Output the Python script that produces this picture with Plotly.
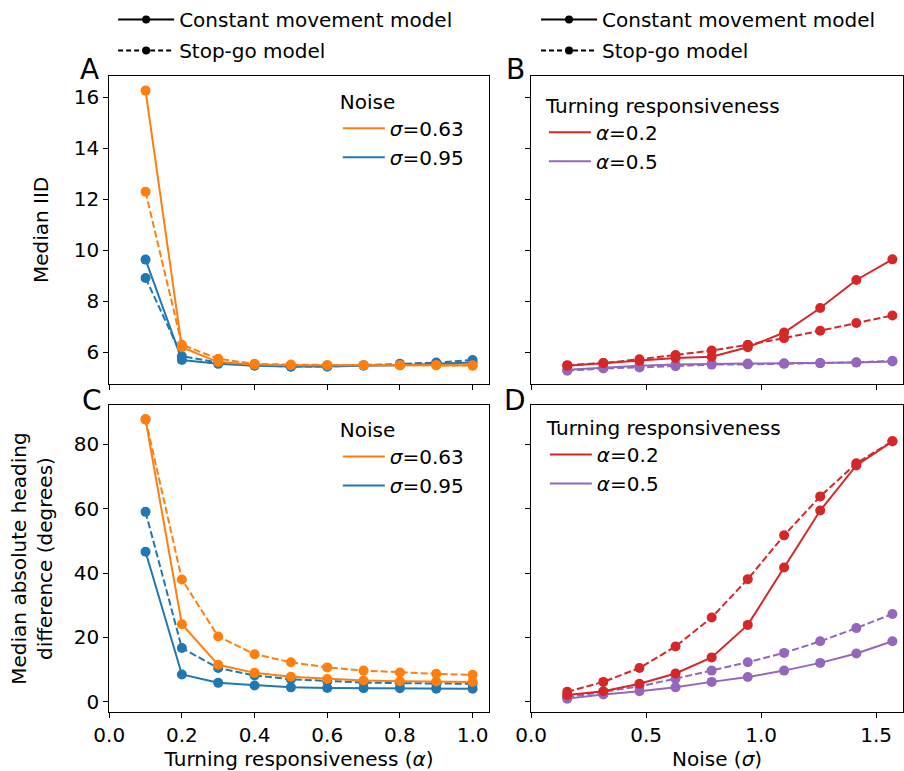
import plotly.graph_objects as go

# ---------------- data ----------------
alpha_vals = [0.1, 0.2, 0.3, 0.4, 0.5, 0.6, 0.7, 0.8, 0.9, 1.0]
sigma_vals = [0.157, 0.314, 0.471, 0.628, 0.785, 0.942, 1.100, 1.257, 1.414, 1.571]

# Panel A: median IID vs alpha
iid_const_s063 = [16.27, 6.20, 5.62, 5.52, 5.50, 5.50, 5.50, 5.50, 5.50, 5.50]
iid_stop_s063 = [12.30, 6.30, 5.75, 5.55, 5.52, 5.50, 5.50, 5.50, 5.50, 5.48]
iid_const_s095 = [9.64, 5.70, 5.55, 5.48, 5.45, 5.45, 5.48, 5.50, 5.55, 5.60]
iid_stop_s095 = [8.92, 5.85, 5.60, 5.50, 5.44, 5.45, 5.50, 5.55, 5.60, 5.70]

# Panel B: median IID vs sigma
iid_const_a02 = [5.48, 5.58, 5.67, 5.78, 5.83, 6.20, 6.78, 7.74, 8.84, 9.65]
iid_stop_a02 = [5.50, 5.58, 5.73, 5.90, 6.07, 6.30, 6.56, 6.85, 7.15, 7.45]
iid_const_a05 = [5.32, 5.41, 5.48, 5.52, 5.55, 5.56, 5.57, 5.58, 5.60, 5.64]
iid_stop_a05 = [5.28, 5.37, 5.41, 5.46, 5.52, 5.53, 5.55, 5.58, 5.61, 5.67]

# Panel C: median abs heading difference vs alpha
head_const_s063 = [87.6, 24.1, 11.5, 9.0, 7.8, 7.1, 6.6, 6.4, 6.3, 6.2]
head_stop_s063 = [87.8, 38.0, 20.3, 14.8, 12.3, 10.7, 9.7, 9.1, 8.7, 8.4]
head_const_s095 = [46.6, 8.5, 5.9, 5.1, 4.5, 4.3, 4.2, 4.2, 4.1, 4.1]
head_stop_s095 = [59.0, 16.7, 10.5, 8.2, 7.0, 6.4, 6.0, 5.8, 5.6, 5.6]

# Panel D: median abs heading difference vs sigma
head_const_a02 = [2.1, 3.3, 5.6, 8.8, 13.8, 23.9, 41.7, 59.4, 73.4, 80.9]
head_stop_a02 = [3.1, 6.2, 10.5, 17.2, 26.2, 38.1, 51.7, 63.8, 74.1, 80.9]
head_const_a05 = [1.0, 2.3, 3.3, 4.5, 6.2, 7.7, 9.7, 12.1, 15.0, 18.8]
head_stop_a05 = [1.4, 3.1, 4.8, 7.2, 9.7, 12.3, 15.2, 18.8, 22.9, 27.3]

iid_ticks = [6, 8, 10, 12, 14, 16]
head_ticks = [0, 20, 40, 60, 80]
alpha_ticks = [0.0, 0.2, 0.4, 0.6, 0.8, 1.0]
sigma_ticks = [0.0, 0.5, 1.0, 1.5]

# ---------------- style ----------------
ORANGE = "#ff7f0e"
BLUE = "#1f77b4"
RED = "#d62728"
PURPLE = "#9467bd"
DASH = "7px,3px"
FONT = "DejaVu Sans"
W, H = 904, 771

fig = go.Figure()


def add_series(x, y, color, dashed, xa, ya):
    fig.add_trace(go.Scatter(
        x=x, y=y, mode="lines+markers",
        line=dict(color=color, width=2, dash=DASH if dashed else "solid"),
        marker=dict(color=color, size=10),
        showlegend=False, xaxis=xa, yaxis=ya, hoverinfo="skip"))


# panel A
add_series(alpha_vals, iid_stop_s095, BLUE, True, "x", "y")
add_series(alpha_vals, iid_const_s095, BLUE, False, "x", "y")
add_series(alpha_vals, iid_stop_s063, ORANGE, True, "x", "y")
add_series(alpha_vals, iid_const_s063, ORANGE, False, "x", "y")
# panel B
add_series(sigma_vals, iid_stop_a05, PURPLE, True, "x2", "y2")
add_series(sigma_vals, iid_const_a05, PURPLE, False, "x2", "y2")
add_series(sigma_vals, iid_stop_a02, RED, True, "x2", "y2")
add_series(sigma_vals, iid_const_a02, RED, False, "x2", "y2")
# panel C
add_series(alpha_vals, head_stop_s095, BLUE, True, "x3", "y3")
add_series(alpha_vals, head_const_s095, BLUE, False, "x3", "y3")
add_series(alpha_vals, head_stop_s063, ORANGE, True, "x3", "y3")
add_series(alpha_vals, head_const_s063, ORANGE, False, "x3", "y3")
# panel D
add_series(sigma_vals, head_stop_a05, PURPLE, True, "x4", "y4")
add_series(sigma_vals, head_const_a05, PURPLE, False, "x4", "y4")
add_series(sigma_vals, head_stop_a02, RED, True, "x4", "y4")
add_series(sigma_vals, head_const_a02, RED, False, "x4", "y4")


def legend_line(name, color, legend, xa, ya):
    fig.add_trace(go.Scatter(
        x=[None], y=[None], mode="lines", name=name,
        line=dict(color=color, width=2), legend=legend,
        xaxis=xa, yaxis=ya))


legend_line("<i>σ</i>=0.63", ORANGE, "legend", "x", "y")
legend_line("<i>σ</i>=0.95", BLUE, "legend", "x", "y")
legend_line("<i>α</i>=0.2", RED, "legend2", "x2", "y2")
legend_line("<i>α</i>=0.5", PURPLE, "legend2", "x2", "y2")
legend_line("<i>σ</i>=0.63", ORANGE, "legend3", "x3", "y3")
legend_line("<i>σ</i>=0.95", BLUE, "legend3", "x3", "y3")
legend_line("<i>α</i>=0.2", RED, "legend4", "x4", "y4")
legend_line("<i>α</i>=0.5", PURPLE, "legend4", "x4", "y4")

for lg in ["legend5", "legend6"]:
    for name, dash, grp in [("Constant movement model", "solid", lg + "c"),
                            ("Stop-go model", "5px,3px", lg + "s")]:
        fig.add_trace(go.Scatter(
            x=[None], y=[None], mode="lines+markers", name=name,
            line=dict(color="black", width=2, dash=dash),
            marker=dict(color="black", size=8),
            legend=lg, legendgroup=grp, xaxis="x", yaxis="y"))

# ---------------- layout ----------------
def px_x(p):
    return p / W


def px_y(p):
    return 1 - p / H


row1 = [px_y(385), px_y(76)]
row2 = [px_y(714), px_y(406)]
colL = [px_x(95), px_x(482)]
colR = [px_x(525), 1.0]

axis_common = dict(showline=True, linecolor="black", linewidth=1, mirror=True,
                   ticks="outside", ticklen=5, tickwidth=1, tickcolor="black",
                   showgrid=False, zeroline=False,
                   tickfont=dict(family=FONT, size=20, color="black"))

fig.update_layout(
    width=W, height=H,
    margin=dict(l=0, r=0, t=0, b=0),
    paper_bgcolor="white", plot_bgcolor="white",
    font=dict(family=FONT, size=20, color="black"),
    xaxis=dict(domain=colL, anchor="y", range=[0, 1.045], tickvals=alpha_ticks,
               showticklabels=False, **axis_common),
    yaxis=dict(domain=row1, anchor="x", range=[4.76, 16.85], tickvals=iid_ticks,
               title=dict(text="Median IID", font=dict(size=20), standoff=19),
               **axis_common),
    xaxis2=dict(domain=colR, anchor="y2", range=[0, 1.617], tickvals=sigma_ticks,
                showticklabels=False, **axis_common),
    yaxis2=dict(domain=row1, anchor="x2", range=[4.76, 16.85], tickvals=iid_ticks,
                showticklabels=False, **axis_common),
    xaxis3=dict(domain=colL, anchor="y3", range=[0, 1.045], tickvals=alpha_ticks,
                tickformat=".1f",
                title=dict(text="Turning responsiveness (<i>α</i>)", font=dict(size=20), standoff=6),
                **axis_common),
    yaxis3=dict(domain=row2, anchor="x3", range=[-3.2, 92.2], tickvals=head_ticks,
                title=dict(text="Median absolute heading<br>difference (degrees)",
                           font=dict(size=20), standoff=15),
                **axis_common),
    xaxis4=dict(domain=colR, anchor="y4", range=[0, 1.617], tickvals=sigma_ticks,
                tickformat=".1f",
                title=dict(text="Noise (<i>σ</i>)", font=dict(size=20), standoff=6),
                **axis_common),
    yaxis4=dict(domain=row2, anchor="x4", range=[-3.2, 92.2], tickvals=head_ticks,
                showticklabels=False, **axis_common),
)

inset_legend = dict(bgcolor="rgba(0,0,0,0)", borderwidth=0,
                    font=dict(family=FONT, size=20, color="black"),
                    xanchor="left", yanchor="top", itemclick=False,
                    itemdoubleclick=False, itemwidth=42)
title_font = dict(family=FONT, size=20, color="black")
fig.update_layout(
    legend=dict(x=px_x(328), y=px_y(83), title=dict(text="Noise", font=title_font), **inset_legend),
    legend2=dict(x=px_x(538), y=px_y(87), title=dict(text="Turning responsiveness", font=title_font), **inset_legend),
    legend3=dict(x=px_x(328), y=px_y(412), title=dict(text="Noise", font=title_font), **inset_legend),
    legend4=dict(x=px_x(539), y=px_y(410), title=dict(text="Turning responsiveness", font=title_font), **inset_legend),
)
top_legend = dict(bgcolor="rgba(0,0,0,0)", borderwidth=0, tracegroupgap=2,
                  font=dict(family=FONT, size=20, color="black"),
                  xanchor="left", yanchor="top", itemclick=False,
                  itemdoubleclick=False, itemwidth=56)
fig.update_layout(
    legend5=dict(x=px_x(99), y=1.0, **top_legend),
    legend6=dict(x=px_x(530), y=1.0, **top_legend),
)

for letter, xp, yp in [("A", 75, 70), ("B", 509, 70), ("C", 77, 402), ("D", 509, 402)]:
    fig.add_annotation(text=letter, x=px_x(xp), y=px_y(yp), xref="paper", yref="paper",
                       xanchor="center", yanchor="middle", showarrow=False,
                       font=dict(family=FONT, size=28, color="black"))

fig.write_html("out.html")
